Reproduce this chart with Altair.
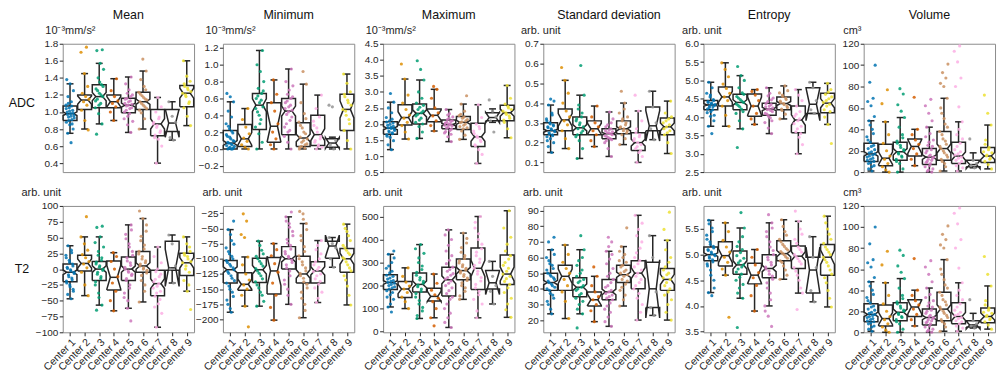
import altair as alt
import numpy as np
import pandas as pd

CENTERS = ["Center 1", "Center 2", "Center 3", "Center 4", "Center 5",
           "Center 6", "Center 7", "Center 8", "Center 9"]
COLORS = ["#0173b2", "#de8f05", "#029e73", "#d55e00", "#cc78bc",
          "#ca9161", "#fbafe4", "#949494", "#ece133"]
COUNTS = [150, 30, 80, 15, 130, 100, 65, 6, 45]

# box statistics per center: [whisker_low, q1, median, q3, whisker_high]
ADC_MEAN_STATS = [[0.75, 0.90, 0.98, 1.07, 1.33], [0.80, 1.03, 1.14, 1.20, 1.45],
                  [0.86, 1.05, 1.18, 1.32, 1.57], [0.90, 1.05, 1.12, 1.20, 1.39],
                  [0.76, 0.99, 1.08, 1.16, 1.41], [0.80, 1.03, 1.12, 1.23, 1.48],
                  [0.40, 0.72, 0.86, 1.03, 1.17], [0.67, 0.77, 0.87, 1.03, 1.12],
                  [0.84, 1.06, 1.22, 1.31, 1.60]]
ADC_MEAN_POINTS = [
    [0.64, 0.75, 0.80, 0.85, 0.88, 0.91, 0.94, 0.96, 0.98, 1.00, 1.02, 1.05, 1.08, 1.12, 1.18, 1.25, 1.33, 1.38,
     0.86, 0.90, 0.93, 0.95, 0.97, 0.99, 1.01, 1.04, 1.07, 1.10],
    [0.79, 0.90, 1.02, 1.08, 1.12, 1.15, 1.18, 1.22, 1.30, 1.45, 1.70, 1.76],
    [0.74, 0.86, 0.98, 1.05, 1.10, 1.15, 1.18, 1.22, 1.27, 1.32, 1.40, 1.50, 1.57, 1.72, 1.73,
     1.08, 1.13, 1.20, 1.25, 1.30, 1.35],
    [0.90, 1.00, 1.06, 1.10, 1.13, 1.18, 1.25, 1.39],
    [0.76, 0.85, 0.92, 0.98, 1.02, 1.05, 1.08, 1.10, 1.13, 1.16, 1.20, 1.26, 1.33, 1.41,
     0.95, 1.00, 1.04, 1.07, 1.09, 1.12, 1.15, 1.18, 1.22, 0.89],
    [0.80, 0.92, 0.99, 1.04, 1.08, 1.12, 1.15, 1.19, 1.23, 1.30, 1.38, 1.48, 1.62,
     1.02, 1.06, 1.10, 1.14, 1.17, 1.21, 1.26],
    [0.40, 0.60, 0.68, 0.73, 0.78, 0.84, 0.88, 0.94, 1.00, 1.06, 1.17, 0.70, 0.76, 0.82, 0.86, 0.92],
    [0.67, 0.70, 0.88, 0.95, 1.12],
    [0.84, 0.95, 1.05, 1.12, 1.18, 1.22, 1.26, 1.30, 1.36, 1.42, 1.60, 1.10, 1.20, 1.24, 1.28, 1.33]]

ADC_MIN_STATS = [[0.0, 0.0, 0.07, 0.22, 0.56], [0.0, 0.03, 0.12, 0.29, 0.48],
                 [0.0, 0.23, 0.52, 0.66, 1.17], [0.0, 0.08, 0.27, 0.55, 0.82],
                 [0.0, 0.17, 0.45, 0.60, 0.95], [0.0, 0.03, 0.13, 0.31, 0.77],
                 [0.0, 0.04, 0.17, 0.40, 0.64], [0.0, 0.02, 0.07, 0.12, 0.14],
                 [0.0, 0.22, 0.47, 0.65, 0.89]]
ADC_MIN_POINTS = [
    [0.0, 0.0, 0.01, 0.02, 0.04, 0.05, 0.07, 0.09, 0.12, 0.15, 0.19, 0.24, 0.30, 0.38, 0.45, 0.56, 0.62, 0.66,
     0.0, 0.01, 0.03, 0.06, 0.08, 0.10, 0.14, 0.17, 0.21, 0.27],
    [0.0, 0.02, 0.05, 0.09, 0.13, 0.18, 0.26, 0.35, 0.48],
    [0.0, 0.08, 0.18, 0.26, 0.35, 0.44, 0.50, 0.55, 0.60, 0.66, 0.72, 0.80, 0.92, 1.0, 1.17,
     0.40, 0.48, 0.58, 0.63, 0.69, 0.30],
    [0.0, 0.05, 0.12, 0.20, 0.30, 0.45, 0.55, 0.65, 0.82],
    [0.0, 0.08, 0.15, 0.22, 0.30, 0.38, 0.44, 0.48, 0.52, 0.57, 0.62, 0.70, 0.80, 0.95,
     0.20, 0.26, 0.34, 0.41, 0.46, 0.50, 0.55, 0.60, 0.65, 0.75],
    [0.0, 0.01, 0.03, 0.06, 0.10, 0.14, 0.18, 0.25, 0.32, 0.42, 0.55, 0.77, 0.92,
     0.02, 0.05, 0.08, 0.12, 0.20, 0.28, 0.36],
    [0.0, 0.02, 0.05, 0.10, 0.15, 0.20, 0.28, 0.38, 0.48, 0.64, 0.03, 0.08, 0.12, 0.25, 0.33],
    [0.0, 0.05, 0.10, 0.50, 0.52],
    [0.0, 0.10, 0.22, 0.30, 0.40, 0.47, 0.55, 0.62, 0.68, 0.78, 0.89, 0.35, 0.45, 0.52, 0.58, 0.65]]

ADC_MAX_STATS = [[1.20, 1.68, 1.87, 2.07, 2.68], [1.53, 1.97, 2.20, 2.60, 3.40],
                 [1.55, 2.00, 2.33, 2.62, 3.37], [1.78, 2.07, 2.27, 2.47, 3.08],
                 [1.45, 1.85, 1.98, 2.12, 2.45], [1.52, 1.83, 2.05, 2.23, 2.62],
                 [0.77, 1.30, 1.60, 2.02, 2.60], [2.05, 2.10, 2.20, 2.35, 2.47],
                 [1.57, 2.10, 2.35, 2.58, 3.20]]
ADC_MAX_POINTS = [
    [1.20, 1.35, 1.48, 1.58, 1.66, 1.72, 1.78, 1.84, 1.90, 1.96, 2.03, 2.10, 2.20, 2.35, 2.50, 2.68, 2.95,
     1.62, 1.70, 1.75, 1.80, 1.86, 1.88, 1.93, 1.99, 2.06, 2.15],
    [1.53, 1.75, 1.95, 2.05, 2.18, 2.28, 2.45, 2.65, 2.90, 3.40, 3.87],
    [1.55, 1.75, 1.92, 2.05, 2.18, 2.30, 2.40, 2.52, 2.65, 2.80, 3.00, 3.37, 3.70, 3.97,
     2.00, 2.12, 2.25, 2.35, 2.45, 2.58],
    [1.78, 1.95, 2.10, 2.25, 2.35, 2.50, 2.80, 3.08, 3.17],
    [1.45, 1.60, 1.72, 1.80, 1.88, 1.94, 1.98, 2.03, 2.08, 2.14, 2.22, 2.32, 2.45,
     1.84, 1.90, 1.96, 2.00, 2.05, 2.10, 2.18, 1.76, 1.68, 2.28],
    [1.52, 1.65, 1.78, 1.88, 1.96, 2.04, 2.10, 2.18, 2.26, 2.40, 2.62, 2.88,
     1.85, 1.92, 2.00, 2.07, 2.14, 2.22, 2.30],
    [0.77, 1.05, 1.20, 1.32, 1.45, 1.58, 1.70, 1.85, 2.00, 2.20, 2.60, 1.35, 1.50, 1.62, 1.78, 1.92],
    [1.75, 2.10, 2.22, 2.40, 2.75],
    [1.57, 1.85, 2.05, 2.18, 2.30, 2.40, 2.50, 2.62, 2.80, 3.20, 2.12, 2.25, 2.35, 2.45, 2.55]]

ADC_SD_STATS = [[0.15, 0.24, 0.26, 0.30, 0.39], [0.17, 0.26, 0.315, 0.37, 0.515],
                [0.12, 0.24, 0.275, 0.33, 0.44], [0.18, 0.24, 0.27, 0.31, 0.385],
                [0.13, 0.22, 0.245, 0.27, 0.355], [0.19, 0.245, 0.27, 0.31, 0.40],
                [0.10, 0.16, 0.20, 0.25, 0.36], [0.215, 0.26, 0.285, 0.38, 0.46],
                [0.145, 0.24, 0.28, 0.325, 0.41]]
ADC_SD_POINTS = [
    [0.15, 0.18, 0.20, 0.22, 0.23, 0.24, 0.25, 0.26, 0.27, 0.28, 0.29, 0.30, 0.32, 0.35, 0.39, 0.41, 0.42,
     0.21, 0.235, 0.245, 0.255, 0.265, 0.275, 0.285, 0.295, 0.31, 0.34],
    [0.17, 0.22, 0.26, 0.29, 0.31, 0.33, 0.36, 0.40, 0.45, 0.515, 0.58],
    [0.12, 0.17, 0.21, 0.23, 0.25, 0.27, 0.28, 0.30, 0.32, 0.35, 0.39, 0.44, 0.59,
     0.24, 0.26, 0.29, 0.31, 0.33, 0.37],
    [0.18, 0.21, 0.24, 0.26, 0.28, 0.30, 0.33, 0.385],
    [0.13, 0.17, 0.20, 0.22, 0.23, 0.24, 0.25, 0.26, 0.27, 0.29, 0.32, 0.355,
     0.21, 0.215, 0.225, 0.235, 0.245, 0.25, 0.255, 0.265, 0.28, 0.30],
    [0.19, 0.22, 0.24, 0.26, 0.27, 0.28, 0.30, 0.32, 0.35, 0.40, 0.46,
     0.25, 0.26, 0.275, 0.29, 0.31, 0.33, 0.37],
    [0.10, 0.13, 0.15, 0.17, 0.19, 0.20, 0.22, 0.24, 0.27, 0.31, 0.36, 0.44, 0.16, 0.18, 0.21, 0.23, 0.25],
    [0.215, 0.27, 0.30, 0.38, 0.46],
    [0.145, 0.20, 0.24, 0.26, 0.28, 0.30, 0.32, 0.35, 0.41, 0.25, 0.27, 0.29, 0.31, 0.33]]

ADC_ENT_STATS = [[3.75, 4.20, 4.33, 4.45, 4.95], [3.75, 4.30, 4.55, 4.82, 5.48],
                 [3.68, 4.20, 4.40, 4.62, 5.13], [3.80, 4.02, 4.30, 4.63, 4.75],
                 [3.55, 4.05, 4.22, 4.38, 4.80], [3.95, 4.20, 4.37, 4.55, 4.85],
                 [3.00, 3.57, 3.92, 4.30, 4.75], [4.10, 4.10, 4.35, 4.80, 4.95],
                 [3.80, 4.12, 4.38, 4.65, 4.92]]
ADC_ENT_POINTS = [
    [3.55, 3.75, 3.90, 4.02, 4.12, 4.20, 4.26, 4.32, 4.36, 4.42, 4.48, 4.55, 4.65, 4.80, 4.95,
     4.05, 4.15, 4.22, 4.28, 4.30, 4.34, 4.38, 4.40, 4.45, 4.60],
    [3.75, 4.05, 4.30, 4.45, 4.55, 4.65, 4.78, 4.90, 5.10, 5.30, 5.48],
    [3.17, 3.68, 3.90, 4.10, 4.22, 4.32, 4.40, 4.48, 4.56, 4.66, 4.80, 5.00, 5.13, 5.38,
     4.15, 4.28, 4.36, 4.44, 4.52, 4.62],
    [3.80, 3.95, 4.10, 4.30, 4.45, 4.60, 4.70, 4.75],
    [3.55, 3.70, 3.85, 3.98, 4.08, 4.15, 4.22, 4.28, 4.34, 4.42, 4.52, 4.65, 4.80,
     3.90, 4.02, 4.10, 4.18, 4.20, 4.25, 4.30, 4.37, 4.47, 4.58],
    [3.95, 4.08, 4.18, 4.26, 4.34, 4.40, 4.48, 4.56, 4.66, 4.85,
     4.22, 4.30, 4.37, 4.44, 4.52, 4.60, 4.72],
    [3.00, 3.25, 3.45, 3.60, 3.75, 3.90, 4.02, 4.15, 4.30, 4.45, 4.60, 4.75, 3.55, 3.68, 3.82, 3.95, 4.08],
    [4.10, 4.20, 4.45, 4.80, 4.95],
    [3.28, 3.80, 4.00, 4.15, 4.30, 4.40, 4.50, 4.62, 4.75, 4.92, 4.20, 4.35, 4.45, 4.55, 4.68]]

VOL_STATS = [[1, 10, 17, 27, 48], [0, 6, 13, 26, 47], [0, 11, 19, 28, 51],
             [6, 15, 24, 31, 40], [0, 7, 14, 22, 42], [1, 11, 22, 38, 69],
             [1, 8, 15, 28, 47], [4, 5, 7, 11, 18], [3, 9, 15, 23, 44]]
VOL_POINTS = [
    [1, 3, 6, 9, 11, 13, 15, 17, 19, 22, 25, 28, 33, 40, 48, 52, 62, 66, 69, 84, 100,
     5, 8, 10, 12, 14, 16, 18, 21, 24, 30, 36, 44],
    [0, 2, 5, 8, 12, 15, 20, 27, 35, 47, 64, 77],
    [0, 3, 8, 12, 15, 18, 21, 25, 29, 35, 42, 51, 57, 63, 73, 78, 10, 14, 17, 20, 23, 27, 32],
    [6, 12, 17, 22, 26, 30, 35, 40, 70],
    [0, 2, 5, 8, 10, 13, 15, 18, 21, 25, 30, 36, 42, 48, 55, 62, 68,
     1, 3, 6, 9, 11, 12, 14, 16, 20, 24, 28, 33],
    [1, 5, 10, 14, 18, 22, 26, 31, 38, 45, 55, 69, 80, 83, 88, 93, 101,
     8, 12, 16, 20, 24, 29, 35, 42, 50, 60],
    [1, 4, 8, 11, 14, 17, 21, 27, 35, 47, 61, 80, 88, 103, 113, 118, 6, 10, 13, 16, 19, 24, 31, 40],
    [4, 6, 8, 11, 31],
    [3, 7, 10, 13, 16, 19, 23, 30, 44, 55, 72, 12, 15, 18, 21, 26]]

T2_MEAN_STATS = [[-47, -20, -5, 8, 37], [-42, -3, 9, 22, 51], [-57, -18, 0, 12, 51],
                 [-66, -33, -13, 13, 26], [-62, -18, 0, 19, 70], [-52, -5, 5, 28, 80],
                 [-92, -42, -23, -2, 35], [-22, -2, 2, 44, 54], [-35, -10, 10, 25, 51]]
T2_MEAN_POINTS = [
    [-47, -40, -32, -25, -19, -14, -9, -5, -1, 3, 8, 14, 22, 30, 37,
     -35, -28, -22, -17, -12, -7, -3, 1, 5, 11, 18, 26],
    [-42, -25, -5, 2, 8, 12, 18, 23, 30, 40, 51, 83],
    [-65, -57, -38, -25, -15, -8, -2, 3, 8, 14, 22, 35, 51, 66, 68,
     -45, -20, -12, -5, 0, 5, 11, 18, 28, 42],
    [-66, -50, -35, -22, -12, 0, 12, 20, 26],
    [-82, -62, -45, -30, -18, -10, -3, 3, 10, 18, 28, 40, 55, 70,
     -50, -38, -25, -15, -8, -5, 0, 6, 13, 22, 35, 48, 62],
    [-52, -35, -18, -6, 0, 5, 10, 16, 24, 32, 45, 60, 80, 92,
     -25, -10, -2, 2, 8, 13, 20, 28, 38, 52, 70],
    [-92, -70, -55, -43, -35, -27, -20, -12, -4, 10, 35, -60, -48, -38, -30, -23, -16, -8, 0, 20],
    [-22, 0, 5, 40, 54],
    [-64, -35, -18, -5, 5, 10, 16, 22, 28, 40, 51, -25, 0, 12, 20, 25, 35]]

T2_MIN_STATS = [[-188, -140, -118, -103, -52], [-178, -152, -142, -123, -97],
                [-178, -139, -118, -99, -71], [-201, -158, -120, -98, -75],
                [-175, -117, -100, -80, -31], [-197, -140, -125, -96, -42],
                [-172, -140, -120, -105, -70], [-114, -99, -79, -71, -65],
                [-176, -122, -100, -83, -43]]
T2_MIN_POINTS = [
    [-188, -175, -162, -150, -140, -132, -124, -118, -112, -106, -100, -92, -82, -70, -52, -38,
     -182, -168, -155, -145, -136, -128, -121, -115, -109, -103, -96, -88, -76, -60],
    [-212, -178, -160, -150, -143, -135, -125, -110, -97, -65, -60, -38, -26],
    [-178, -160, -148, -138, -128, -120, -112, -104, -96, -86, -71,
     -170, -155, -143, -133, -124, -116, -108, -100, -92, -78],
    [-201, -180, -160, -140, -122, -108, -95, -85, -75],
    [-175, -150, -135, -120, -110, -102, -96, -88, -78, -68, -55, -42, -31, -23,
     -160, -142, -128, -115, -106, -98, -92, -84, -74, -62, -48, -38],
    [-197, -175, -155, -142, -132, -124, -115, -105, -95, -80, -62, -42, -26, -22,
     -185, -165, -148, -138, -128, -120, -110, -100, -88, -70, -52, -35],
    [-172, -155, -142, -133, -125, -118, -110, -100, -85, -70,
     -165, -148, -137, -128, -121, -114, -105, -92, -78],
    [-114, -100, -82, -75, -65],
    [-176, -145, -128, -115, -105, -98, -90, -82, -70, -55, -43,
     -160, -135, -120, -110, -100, -93, -86, -78, -62, -50]]

T2_MAX_STATS = [[107, 183, 213, 247, 336], [100, 148, 185, 218, 277], [57, 172, 205, 255, 378],
                [60, 133, 153, 188, 250], [18, 155, 225, 280, 442], [140, 225, 265, 315, 428],
                [60, 183, 275, 363, 500], [120, 185, 212, 265, 305], [62, 205, 250, 333, 525]]
T2_MAX_POINTS = [
    [85, 107, 140, 160, 178, 190, 200, 210, 218, 228, 240, 255, 275, 300, 336, 350,
     120, 150, 170, 185, 195, 205, 214, 222, 233, 245, 262, 285, 320],
    [100, 130, 150, 170, 185, 198, 215, 240, 277],
    [57, 90, 120, 150, 175, 195, 210, 225, 245, 270, 300, 340, 378,
     70, 105, 135, 165, 185, 202, 218, 235, 258, 285, 320, 360],
    [25, 60, 100, 130, 145, 160, 180, 210, 250],
    [18, 60, 100, 140, 165, 190, 210, 228, 245, 262, 280, 310, 350, 400, 442,
     40, 80, 120, 150, 178, 200, 220, 235, 252, 270, 295, 330, 375, 420],
    [140, 175, 200, 222, 240, 255, 268, 282, 298, 318, 345, 385, 428,
     155, 190, 212, 232, 248, 262, 275, 290, 308, 330, 365, 405],
    [60, 120, 160, 190, 220, 250, 275, 300, 330, 360, 400, 450, 500,
     90, 140, 175, 205, 235, 262, 288, 315, 345, 380, 425, 475],
    [120, 175, 200, 240, 305],
    [62, 120, 170, 205, 230, 250, 275, 300, 330, 380, 450, 525,
     95, 145, 190, 218, 240, 262, 288, 315, 350, 410]]

T2_SD_STATS = [[24, 39, 44, 50, 65], [21, 39, 48, 55, 68], [24, 35, 41, 47, 65],
               [19, 29, 33, 38, 48], [16, 33, 38, 46, 64], [29, 44, 49, 55, 67],
               [20, 40, 50, 58, 87], [23, 28, 40, 57, 74], [20, 39, 46, 53, 71]]
T2_SD_POINTS = [
    [24, 30, 34, 37, 40, 42, 44, 46, 48, 50, 53, 56, 60, 65, 70, 73,
     27, 32, 36, 39, 41, 43, 45, 47, 49, 52, 55, 58, 62],
    [21, 32, 38, 42, 46, 50, 53, 57, 62, 68],
    [15, 24, 30, 34, 37, 40, 42, 45, 48, 52, 58, 65, 74, 27, 32, 36, 39, 41, 44, 46, 50, 55, 60],
    [19, 26, 30, 33, 35, 38, 42, 48, 54],
    [16, 22, 27, 31, 34, 36, 38, 41, 44, 48, 53, 59, 64, 70, 73,
     19, 25, 29, 33, 35, 37, 39, 42, 46, 50, 56, 62, 67],
    [29, 36, 41, 45, 48, 50, 52, 55, 58, 62, 67, 79, 33, 39, 43, 46, 49, 51, 54, 57, 60, 64],
    [20, 30, 37, 42, 46, 50, 54, 58, 63, 70, 78, 87, 25, 34, 40, 44, 48, 52, 56, 60, 66, 74, 82],
    [23, 28, 38, 60, 74],
    [20, 30, 36, 40, 44, 47, 50, 54, 60, 71, 78, 89, 25, 33, 38, 42, 46, 49, 52, 57, 65]]

T2_ENT_STATS = [[4.26, 4.88, 5.00, 5.15, 5.67], [4.60, 4.78, 4.98, 5.25, 5.62],
                [4.15, 4.62, 4.80, 5.07, 5.52], [3.90, 4.43, 4.60, 4.83, 5.10],
                [4.00, 4.55, 4.73, 5.00, 5.62], [4.52, 4.88, 5.02, 5.27, 5.68],
                [4.25, 4.73, 4.97, 5.17, 5.65], [4.08, 4.25, 4.70, 4.95, 5.35],
                [3.98, 4.60, 4.95, 5.20, 5.75]]
T2_ENT_POINTS = [
    [4.20, 4.26, 4.50, 4.70, 4.82, 4.90, 4.96, 5.00, 5.05, 5.10, 5.16, 5.25, 5.38, 5.52, 5.67,
     4.35, 4.60, 4.78, 4.86, 4.93, 4.98, 5.02, 5.08, 5.13, 5.20, 5.30, 5.45, 5.60],
    [3.78, 4.60, 4.72, 4.85, 4.95, 5.05, 5.15, 5.28, 5.45, 5.62],
    [3.58, 4.15, 4.35, 4.50, 4.62, 4.72, 4.80, 4.88, 4.98, 5.10, 5.25, 5.52, 5.82,
     4.25, 4.42, 4.56, 4.66, 4.76, 4.84, 4.93, 5.04, 5.16, 5.35],
    [3.90, 4.20, 4.40, 4.55, 4.65, 4.80, 4.95, 5.10],
    [3.60, 3.80, 4.00, 4.25, 4.45, 4.58, 4.68, 4.76, 4.85, 4.95, 5.08, 5.25, 5.45, 5.62, 5.78,
     3.90, 4.12, 4.35, 4.52, 4.62, 4.72, 4.80, 4.90, 5.00, 5.15, 5.35, 5.52],
    [4.52, 4.70, 4.85, 4.93, 5.00, 5.06, 5.12, 5.20, 5.30, 5.45, 5.68,
     4.60, 4.78, 4.88, 4.96, 5.03, 5.09, 5.16, 5.25, 5.38, 5.55],
    [3.93, 4.25, 4.50, 4.68, 4.82, 4.92, 5.00, 5.10, 5.22, 5.40, 5.65, 5.85,
     4.35, 4.60, 4.75, 4.87, 4.96, 5.05, 5.15, 5.30, 5.50],
    [4.08, 4.30, 4.75, 4.95, 5.35],
    [3.98, 4.30, 4.55, 4.70, 4.85, 4.95, 5.05, 5.15, 5.30, 5.50, 5.75,
     4.15, 4.45, 4.62, 4.78, 4.90, 5.00, 5.10, 5.22, 5.40, 5.62]]

COL_TITLES = ["Mean", "Minimum", "Maximum", "Standard deviation", "Entropy", "Volume"]
ADC_UNIT = "10\u207b\u00b3mm/s\u00b2"
ARB = "arb. unit"
CM3 = "cm\u00b3"

ROW1 = [
    dict(stats=ADC_MEAN_STATS, points=ADC_MEAN_POINTS, unit=ADC_UNIT, ux=-18,
         domain=[0.295, 1.8], ticks=[0.4, 0.6, 0.8, 1.0, 1.2, 1.4, 1.6, 1.8], fmt=".1f"),
    dict(stats=ADC_MIN_STATS, points=ADC_MIN_POINTS, unit=ADC_UNIT, ux=-18,
         domain=[-0.275, 1.25], ticks=[-0.2, 0.0, 0.2, 0.4, 0.6, 0.8, 1.0, 1.2], fmt=".1f"),
    dict(stats=ADC_MAX_STATS, points=ADC_MAX_POINTS, unit=ADC_UNIT, ux=-18,
         domain=[0.5, 4.5], ticks=[0.5, 1.0, 1.5, 2.0, 2.5, 3.0, 3.5, 4.0, 4.5], fmt=".1f"),
    dict(stats=ADC_SD_STATS, points=ADC_SD_POINTS, unit=ARB, ux=-23,
         domain=[0.051, 0.7], ticks=[0.1, 0.2, 0.3, 0.4, 0.5, 0.6, 0.7], fmt=".1f"),
    dict(stats=ADC_ENT_STATS, points=ADC_ENT_POINTS, unit=ARB, ux=-22,
         domain=[2.5, 6.0], ticks=[2.5, 3.0, 3.5, 4.0, 4.5, 5.0, 5.5, 6.0], fmt=".1f"),
    dict(stats=VOL_STATS, points=VOL_POINTS, unit=CM3, ux=-21,
         domain=[0, 120], ticks=[0, 20, 40, 60, 80, 100, 120], fmt="d"),
]
ROW2 = [
    dict(stats=T2_MEAN_STATS, points=T2_MEAN_POINTS, unit=ARB, ux=-42,
         domain=[-100, 100], ticks=[-100, -75, -50, -25, 0, 25, 50, 75, 100], fmt="d"),
    dict(stats=T2_MIN_STATS, points=T2_MIN_POINTS, unit=ARB, ux=-21,
         domain=[-221, -13], ticks=[-200, -175, -150, -125, -100, -75, -50, -25], fmt="d"),
    dict(stats=T2_MAX_STATS, points=T2_MAX_POINTS, unit=ARB, ux=-21,
         domain=[-3, 546], ticks=[0, 100, 200, 300, 400, 500], fmt="d"),
    dict(stats=T2_SD_STATS, points=T2_SD_POINTS, unit=ARB, ux=-21,
         domain=[12.2, 93], ticks=[20, 30, 40, 50, 60, 70, 80, 90], fmt="d"),
    dict(stats=T2_ENT_STATS, points=T2_ENT_POINTS, unit=ARB, ux=-22,
         domain=[3.486, 5.95], ticks=[3.5, 4.0, 4.5, 5.0, 5.5], fmt=".1f"),
    dict(stats=VOL_STATS, points=VOL_POINTS, unit=CM3, ux=-21,
         domain=[0, 120], ticks=[0, 20, 40, 60, 80, 100, 120], fmt="d"),
]

BOX_W = 0.95
JIT = 0.3
FONT = "Liberation Sans"
INK = "#262626"
W = 132


def make_panel(p, height, show_x, row_label=None, label_y=0, col_title=None):
    pts, verts, whisk, caps, meds = [], [], [], [], []
    for ci in range(9):
        wlo, q1, med, q3, whi = p["stats"][ci]
        half = 1.57 * (q3 - q1) / np.sqrt(COUNTS[ci])
        nlo, nhi = med - half, med + half
        L, R = ci - BOX_W / 2, ci + BOX_W / 2
        cl, cr = ci - BOX_W / 4, ci + BOX_W / 4
        xs = [L, R, R, cr, R, R, L, L, cl, L, L]
        ys = [q1, q1, nlo, med, nhi, q3, q3, nhi, med, nlo, q1]
        for o, (xv, yv) in enumerate(zip(xs, ys)):
            verts.append({"b": ci, "o": o, "x": xv, "y": yv})
        whisk.append({"x": ci, "y": wlo, "y2": q1})
        whisk.append({"x": ci, "y": q3, "y2": whi})
        caps.append({"x": cl, "x2": cr, "y": wlo})
        caps.append({"x": cl, "x2": cr, "y": whi})
        meds.append({"x": cl, "x2": cr, "y": med})
        for k, v in enumerate(p["points"][ci]):
            off = (((k + 1) * 0.6180339887 + ci * 0.29) % 1.0 - 0.5) * 2 * JIT
            pts.append({"cn": CENTERS[ci], "x": ci + off, "y": v})

    yaxis = alt.Axis(values=p["ticks"], format=p["fmt"], title=p["unit"],
                     titleAngle=0, titleAlign="left", titleBaseline="middle",
                     titleX=p["ux"], titleY=-13, titleFontSize=11,
                     titleFontWeight="normal", labelFontSize=10, tickSize=3.5,
                     labelPadding=1.5, domain=False, grid=False)
    if show_x:
        xaxis = alt.Axis(values=list(range(9)),
                         labelExpr="'Center ' + (datum.value + 1)",
                         labelAngle=315, labelAlign="right", labelBaseline="top",
                         labelFontSize=10.5, tickSize=3.5, labelPadding=1,
                         labelOverlap=False, labelBound=False, labelFlush=False,
                         domain=False, grid=False, title=None)
    else:
        xaxis = None
    X = alt.X("x:Q", scale=alt.Scale(domain=[-0.5, 8.5], nice=False, zero=False), axis=xaxis)
    Y = alt.Y("y:Q", scale=alt.Scale(domain=p["domain"], nice=False, zero=False), axis=yaxis)

    box = alt.Chart(pd.DataFrame(verts)).mark_line(color=INK, strokeWidth=1.5).encode(
        x=X, y=Y, detail="b:N", order="o:Q")
    wh = alt.Chart(pd.DataFrame(whisk)).mark_rule(color=INK, strokeWidth=1.5).encode(
        x=X, y=Y, y2="y2:Q")
    cp = alt.Chart(pd.DataFrame(caps)).mark_rule(color=INK, strokeWidth=1.5).encode(
        x=X, x2="x2:Q", y=Y)
    md = alt.Chart(pd.DataFrame(meds)).mark_rule(color=INK, strokeWidth=1.5).encode(
        x=X, x2="x2:Q", y=Y)
    pt = alt.Chart(pd.DataFrame(pts)).mark_circle(size=10, opacity=0.85).encode(
        x=X, y=Y,
        color=alt.Color("cn:N", scale=alt.Scale(domain=CENTERS, range=COLORS), legend=None))
    layers = [box, wh, cp, md, pt]
    if row_label:
        lab = alt.Chart(pd.DataFrame({"t": [row_label]})).mark_text(
            font=FONT, fontSize=12.5, color="#111", align="center", baseline="middle"
        ).encode(x=alt.value(-41), y=alt.value(label_y), text="t:N")
        layers.append(lab)
    ch = alt.layer(*layers)
    if col_title:
        ch = ch.properties(width=W, height=height,
                           title=alt.TitleParams(text=col_title, frame="group", anchor="middle",
                                                 fontSize=12.5, fontWeight="normal", font=FONT,
                                                 color="#111", offset=3))
    else:
        ch = ch.properties(width=W, height=height)
    return ch


panels = []
for i, p in enumerate(ROW1):
    panels.append(make_panel(p, 129, False, row_label="ADC" if i == 0 else None,
                             label_y=60, col_title=COL_TITLES[i]))
for i, p in enumerate(ROW2):
    panels.append(make_panel(p, 127, True, row_label="T2" if i == 0 else None,
                             label_y=63))

chart = alt.concat(*panels, columns=6, spacing={"row": 34, "column": 29},
                   bounds="flush").properties(
    padding={"left": 0, "top": 0, "right": 0, "bottom": 0}
).configure_view(stroke="#8c8c8c", strokeWidth=1).configure_axis(
    labelFont=FONT, titleFont=FONT, labelColor=INK, titleColor=INK, tickColor=INK
)

chart.save("out.html", embed_options={"renderer": "svg", "actions": False})
